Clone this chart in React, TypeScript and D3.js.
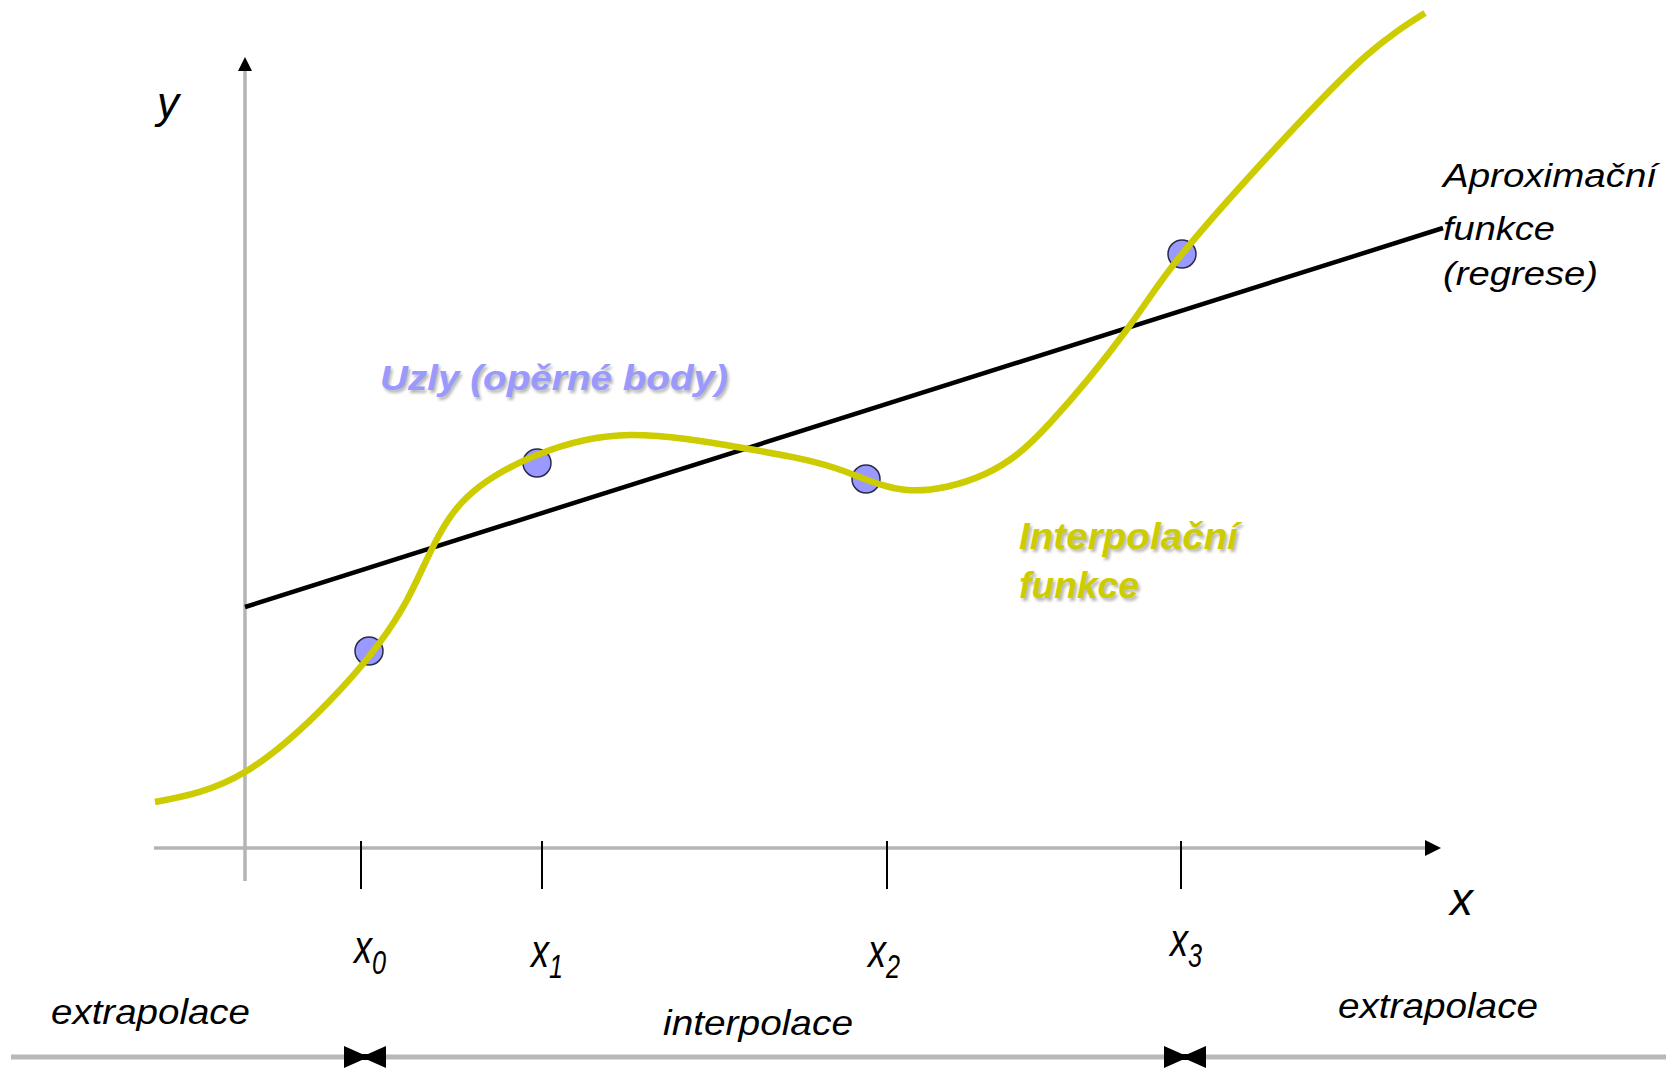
import { curveNatural, line, scaleLinear } from "d3";
import type { ReactElement } from "react";

// interpolation curve, in chart units (x: 0..12, y: 0..8)
const curveX = [-0.9, 0, 0.95, 1.62, 2.12, 2.92, 3.85, 4.98, 5.9, 6.62, 7.4, 8.05, 8.83, 9.37, 10.38, 11.22, 11.8];
const curveY = [0.46, 0.76, 1.58, 2.48, 3.4, 3.93, 4.13, 4.0, 3.8, 3.58, 3.74, 4.25, 5.2, 5.94, 7.08, 7.93, 8.35];

// nodes (opěrné body)
const nodeX = [1.24, 2.92, 6.21, 9.37];
const nodeY = [1.97, 3.85, 3.69, 5.94];

// regression line end points
const regX = [0, 11.98];
const regY = [2.41, 6.2];

// ticks on x axis
const tickX = [1.16, 2.97, 6.42, 9.36];
const tickSub = ["0", "1", "2", "3"];
const tickLabelDx = [9, 5, -3, 5];
const tickLabelBase = [963, 967, 967, 956];

// interval markers on the bottom line
const markerX = [1.2, 9.4];

const W = 1669;
const H = 1070;
const FONT = "'Liberation Sans', Arial, sans-serif";
const AXIS = "#b4b4b4";
const YELLOW = "#cccc00";
const NODE = "#9999ff";

const xScale = scaleLinear().domain([0, 12]).range([245, 1445]);
const yScale = scaleLinear().domain([0, 8]).range([848, 48]);

const Shadowed = (props: {
  x: number;
  y: number;
  len: number;
  fill: string;
  size: number;
  children: string;
}): ReactElement => {
  const { x, y, len, fill, size, children } = props;
  const common = {
    fontFamily: FONT,
    fontSize: size,
    fontWeight: 700,
    fontStyle: "italic",
    textLength: len,
    lengthAdjust: "spacingAndGlyphs",
  } as const;
  return (
    <g>
      <text x={x + 2} y={y + 3} fill="#9a9a9a" opacity={0.7} filter="url(#soft)" {...common}>
        {children}
      </text>
      <text x={x} y={y} fill={fill} {...common}>
        {children}
      </text>
    </g>
  );
};

export default function App(): ReactElement {
  const pts: Array<[number, number]> = curveX.map((v, i) => [v, curveY[i]]);
  const curvePath =
    line<[number, number]>()
      .x((d) => xScale(d[0]))
      .y((d) => yScale(d[1]))
      .curve(curveNatural)(pts) ?? "";

  const x0 = xScale(0);
  const y0 = yScale(0);
  const xAxisStart = xScale(-0.91);
  const xAxisTip = xScale(11.96);
  const yAxisTip = yScale(7.91);
  const yAxisBottom = yScale(-0.33);
  const bottomY = 1057;

  const italic = { fontFamily: FONT, fontStyle: "italic" } as const;

  return (
    <svg
      width={W}
      height={H}
      viewBox={`0 0 ${W} ${H}`}
      style={{ position: "absolute", left: 0, top: 0, background: "#fff" }}
    >
      <defs>
        <filter id="soft" x="-5%" y="-20%" width="110%" height="140%">
          <feGaussianBlur stdDeviation={1.4} />
        </filter>
      </defs>
      <rect x={0} y={0} width={W} height={H} fill="#fff" />

      {/* axes */}
      <line x1={xAxisStart} x2={xAxisTip - 14} y1={y0} y2={y0} stroke={AXIS} strokeWidth={3.5} />
      <polygon points={`${xAxisTip},${y0} ${xAxisTip - 16},${y0 - 8} ${xAxisTip - 16},${y0 + 8}`} fill="#000" />
      <line x1={x0} x2={x0} y1={yAxisBottom} y2={yAxisTip + 12} stroke={AXIS} strokeWidth={3.5} />
      <polygon points={`${x0},${yAxisTip} ${x0 - 7},${yAxisTip + 14} ${x0 + 7},${yAxisTip + 14}`} fill="#000" />

      {/* ticks */}
      {tickX.map((t, i) => (
        <g key={`tick-${i}`}>
          <line x1={xScale(t)} x2={xScale(t)} y1={y0 - 7} y2={y0 + 41} stroke="#000" strokeWidth={2} />
          <g transform={`translate(${xScale(t) + tickLabelDx[i]},${tickLabelBase[i]}) scale(0.84,1.08)`}>
            <text x={0} y={0} textAnchor="middle" fill="#000" {...italic} fontSize={43}>
              x
              <tspan dy={10} fontSize={30}>
                {tickSub[i]}
              </tspan>
            </text>
          </g>
        </g>
      ))}

      {/* axis names */}
      <text x={157} y={118} fill="#000" {...italic} fontSize={44}>
        y
      </text>
      <text x={1450} y={915} fill="#000" {...italic} fontSize={46}>
        x
      </text>

      {/* regression */}
      <line
        x1={xScale(regX[0])}
        y1={yScale(regY[0])}
        x2={xScale(regX[1])}
        y2={yScale(regY[1])}
        stroke="#000"
        strokeWidth={4.5}
      />

      {/* nodes */}
      {nodeX.map((v, i) => (
        <circle
          key={`node-${i}`}
          cx={xScale(v)}
          cy={yScale(nodeY[i])}
          r={14}
          fill={NODE}
          stroke="#2a2a4a"
          strokeWidth={1.5}
        />
      ))}

      {/* interpolation curve */}
      <path d={curvePath} fill="none" stroke={YELLOW} strokeWidth={6.5} />

      {/* annotations */}
      <text x={1443} y={187} fill="#000" {...italic} fontSize={34} textLength={214} lengthAdjust="spacingAndGlyphs">
        Aproximační
      </text>
      <text x={1443} y={240} fill="#000" {...italic} fontSize={34} textLength={112} lengthAdjust="spacingAndGlyphs">
        funkce
      </text>
      <text x={1443} y={285} fill="#000" {...italic} fontSize={34} textLength={155} lengthAdjust="spacingAndGlyphs">
        (regrese)
      </text>

      <Shadowed x={380} y={390} len={348} fill={NODE} size={35}>
        Uzly (opěrné body)
      </Shadowed>
      <Shadowed x={1019} y={549} len={219} fill={YELLOW} size={37}>
        Interpolační
      </Shadowed>
      <Shadowed x={1019} y={598} len={120} fill={YELLOW} size={37}>
        funkce
      </Shadowed>

      {/* bottom range line */}
      <line x1={11} x2={1666} y1={bottomY} y2={bottomY} stroke="#b8b8b8" strokeWidth={5} />
      {markerX.map((m, i) => {
        const cx = xScale(m);
        return (
          <polygon
            key={`mark-${i}`}
            points={`${cx - 21},${bottomY - 11} ${cx - 3},${bottomY - 3} ${cx + 3},${bottomY - 3} ${cx + 21},${bottomY - 11} ${cx + 21},${bottomY + 11} ${cx + 3},${bottomY + 3} ${cx - 3},${bottomY + 3} ${cx - 21},${bottomY + 11}`}
            fill="#000"
          />
        );
      })}
      <text x={51} y={1024} fill="#000" {...italic} fontSize={35} textLength={199} lengthAdjust="spacingAndGlyphs">
        extrapolace
      </text>
      <text x={663} y={1035} fill="#000" {...italic} fontSize={35} textLength={190} lengthAdjust="spacingAndGlyphs">
        interpolace
      </text>
      <text x={1338} y={1018} fill="#000" {...italic} fontSize={35} textLength={200} lengthAdjust="spacingAndGlyphs">
        extrapolace
      </text>
    </svg>
  );
}
